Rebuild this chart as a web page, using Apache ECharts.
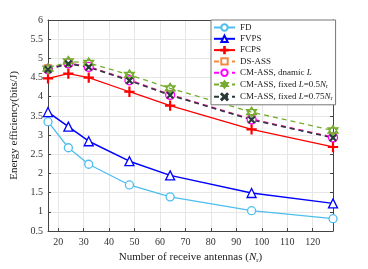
<!DOCTYPE html>
<html><head><meta charset="utf-8">
<script src="https://cdn.jsdelivr.net/npm/echarts@6/dist/echarts.min.js"></script>
<style>html,body{margin:0;padding:0;background:#fff}#c{width:368px;height:269px}</style>
</head><body><div id="c"></div>
<script>
const antennas = [16, 24, 32, 48, 64, 96, 128];
const fd = [3.35, 2.67, 2.24, 1.70, 1.39, 1.03, 0.82];
const fvps = [3.60, 3.22, 2.84, 2.32, 1.95, 1.49, 1.22];
const fcps = [4.48, 4.60, 4.50, 4.13, 3.77, 3.15, 2.69];
const dsAss = [4.74, 4.88, 4.79, 4.44, 4.06, 3.42, 2.95];
const cmDyn = [4.72, 4.87, 4.78, 4.43, 4.05, 3.41, 2.94];
const cmHalf = [4.73, 4.92, 4.88, 4.57, 4.22, 3.60, 3.12];
const cmThreeQ = [4.71, 4.86, 4.77, 4.42, 4.04, 3.40, 2.93];
const xTicks = [20, 30, 40, 50, 60, 70, 80, 90, 100, 110, 120];
const names = ['FD', 'FVPS', 'FCPS', 'DS-ASS', 'CM-ASS, dnamic L', 'CM-ASS, fixed L=0.5Nr', 'CM-ASS, fixed L=0.75Nr'];

const FONT = '"Liberation Serif", "DejaVu Serif", serif';
const pair = a => a.map((v, i) => [antennas[i], v]);
const hexagram = 'path://M0,-10L8.66,5L-8.66,5ZM0,10L8.66,-5L-8.66,-5Z';
const xmark = 'path://M-8,-10L0,-2L8,-10L10,-8L2,0L10,8L8,10L0,2L-8,10L-10,8L-2,0L-10,-8Z';

function mk(name, data, color, symbol, size, dashed, width, fill) {
  return {
    name, type: 'line', data: pair(data), symbol, symbolSize: size,
    lineStyle: { color, width: width, type: dashed ? [5, 4] : 'solid' },
    itemStyle: { color: fill || '#fff', borderColor: color, borderWidth: 1.3 },
    emphasis: { disabled: true }, animation: false
  };
}

const chart = echarts.init(document.getElementById('c'), null, { renderer: 'canvas' });
chart.setOption({
  backgroundColor: '#fff',
  grid: { left: 48, right: 35, top: 20, bottom: 33 },
  xAxis: [{
    type: 'value', min: 16, max: 128,
    name: '{n|Number of receive antennas (}{i|N}{s|r}{n|)}',
    nameLocation: 'middle', nameGap: 20,
    nameTextStyle: { rich: {
      n: { fontFamily: FONT, fontSize: 11, color: '#222' },
      i: { fontFamily: FONT, fontSize: 11, color: '#222', fontStyle: 'italic' },
      s: { fontFamily: FONT, fontSize: 7, color: '#222', verticalAlign: 'bottom', padding: [6, 0, 0, 0] } } },
    axisLine: { show: true, onZero: false, lineStyle: { color: '#444', width: 1 } },
    axisTick: { show: true, inside: true, length: 3, customValues: xTicks, lineStyle: { color: '#444' } },
    axisLabel: { customValues: xTicks, fontFamily: FONT, fontSize: 10, color: '#333', margin: 6 },
    splitLine: { show: true, lineStyle: { color: '#e6e6e6', width: 1 } }
  }, {
    type: 'value', min: 16, max: 128, position: 'top',
    axisLine: { show: true, lineStyle: { color: '#444', width: 1 } },
    axisTick: { show: false }, axisLabel: { show: false }, splitLine: { show: false }
  }],
  yAxis: [{
    type: 'value', min: 0.5, max: 6, interval: 0.5,
    name: 'Energy efficiency(bits/J)', nameLocation: 'middle', nameGap: 24,
    nameTextStyle: { fontFamily: FONT, fontSize: 11, color: '#222' },
    axisLine: { show: true, lineStyle: { color: '#444', width: 1 } },
    axisTick: { show: true, inside: true, length: 3, lineStyle: { color: '#444' } },
    axisLabel: { fontFamily: FONT, fontSize: 10, color: '#333', margin: 5 },
    splitLine: { show: true, lineStyle: { color: '#e6e6e6', width: 1 } }
  }, {
    type: 'value', min: 0.5, max: 6, interval: 0.5, position: 'right',
    axisLine: { show: true, lineStyle: { color: '#444', width: 1 } },
    axisTick: { show: true, inside: true, length: 3, lineStyle: { color: '#444' } },
    axisLabel: { show: false }, splitLine: { show: false }
  }],
  legend: {
    orient: 'vertical', left: 211, top: 20, itemWidth: 21, itemHeight: 8, itemGap: 2.3,
    padding: [3, 3, 3, 2], backgroundColor: '#fff', borderColor: '#777', borderWidth: 1,
    data: names,
    formatter: function (n) {
      if (n === names[4]) return '{n|CM-ASS, dnamic }{i|L}';
      if (n === names[5]) return '{n|CM-ASS, fixed }{i|L}{n|=0.5}{i|N}{s|r}';
      if (n === names[6]) return '{n|CM-ASS, fixed }{i|L}{n|=0.75}{i|N}{s|r}';
      return '{n|' + n + '}';
    },
    textStyle: { fontFamily: FONT, fontSize: 9, color: '#222', rich: {
      n: { fontFamily: FONT, fontSize: 9, color: '#222', lineHeight: 10 },
      i: { fontFamily: FONT, fontSize: 9, color: '#222', fontStyle: 'italic', lineHeight: 10 },
      s: { fontFamily: FONT, fontSize: 6, color: '#222', verticalAlign: 'bottom', padding: [4, 0, 0, 0], lineHeight: 10 } } }
  },
  series: [
    mk(names[0], fd, '#4DBEEE', 'circle', 8, false, 1.3),
    mk(names[1], fvps, '#0000FF', 'triangle', 9, false, 1.5),
    mk(names[2], fcps, '#FF0000', 'path://M-1,-10L1,-10L1,-1L10,-1L10,1L1,1L1,10L-1,10L-1,1L-10,1L-10,-1L-1,-1Z', 9, false, 1.3, '#FF0000'),
    mk(names[3], dsAss, '#F5893F', 'rect', 7, true, 1.3),
    mk(names[4], cmDyn, '#FF00FF', 'circle', 9, true, 1.5),
    mk(names[5], cmHalf, '#77AC30', hexagram, 10, true, 1.3, '#9ACD55'),
    mk(names[6], cmThreeQ, '#2A3A3A', xmark, 6, true, 1.5, '#2A3A3A')
  ]
});
</script></body></html>
